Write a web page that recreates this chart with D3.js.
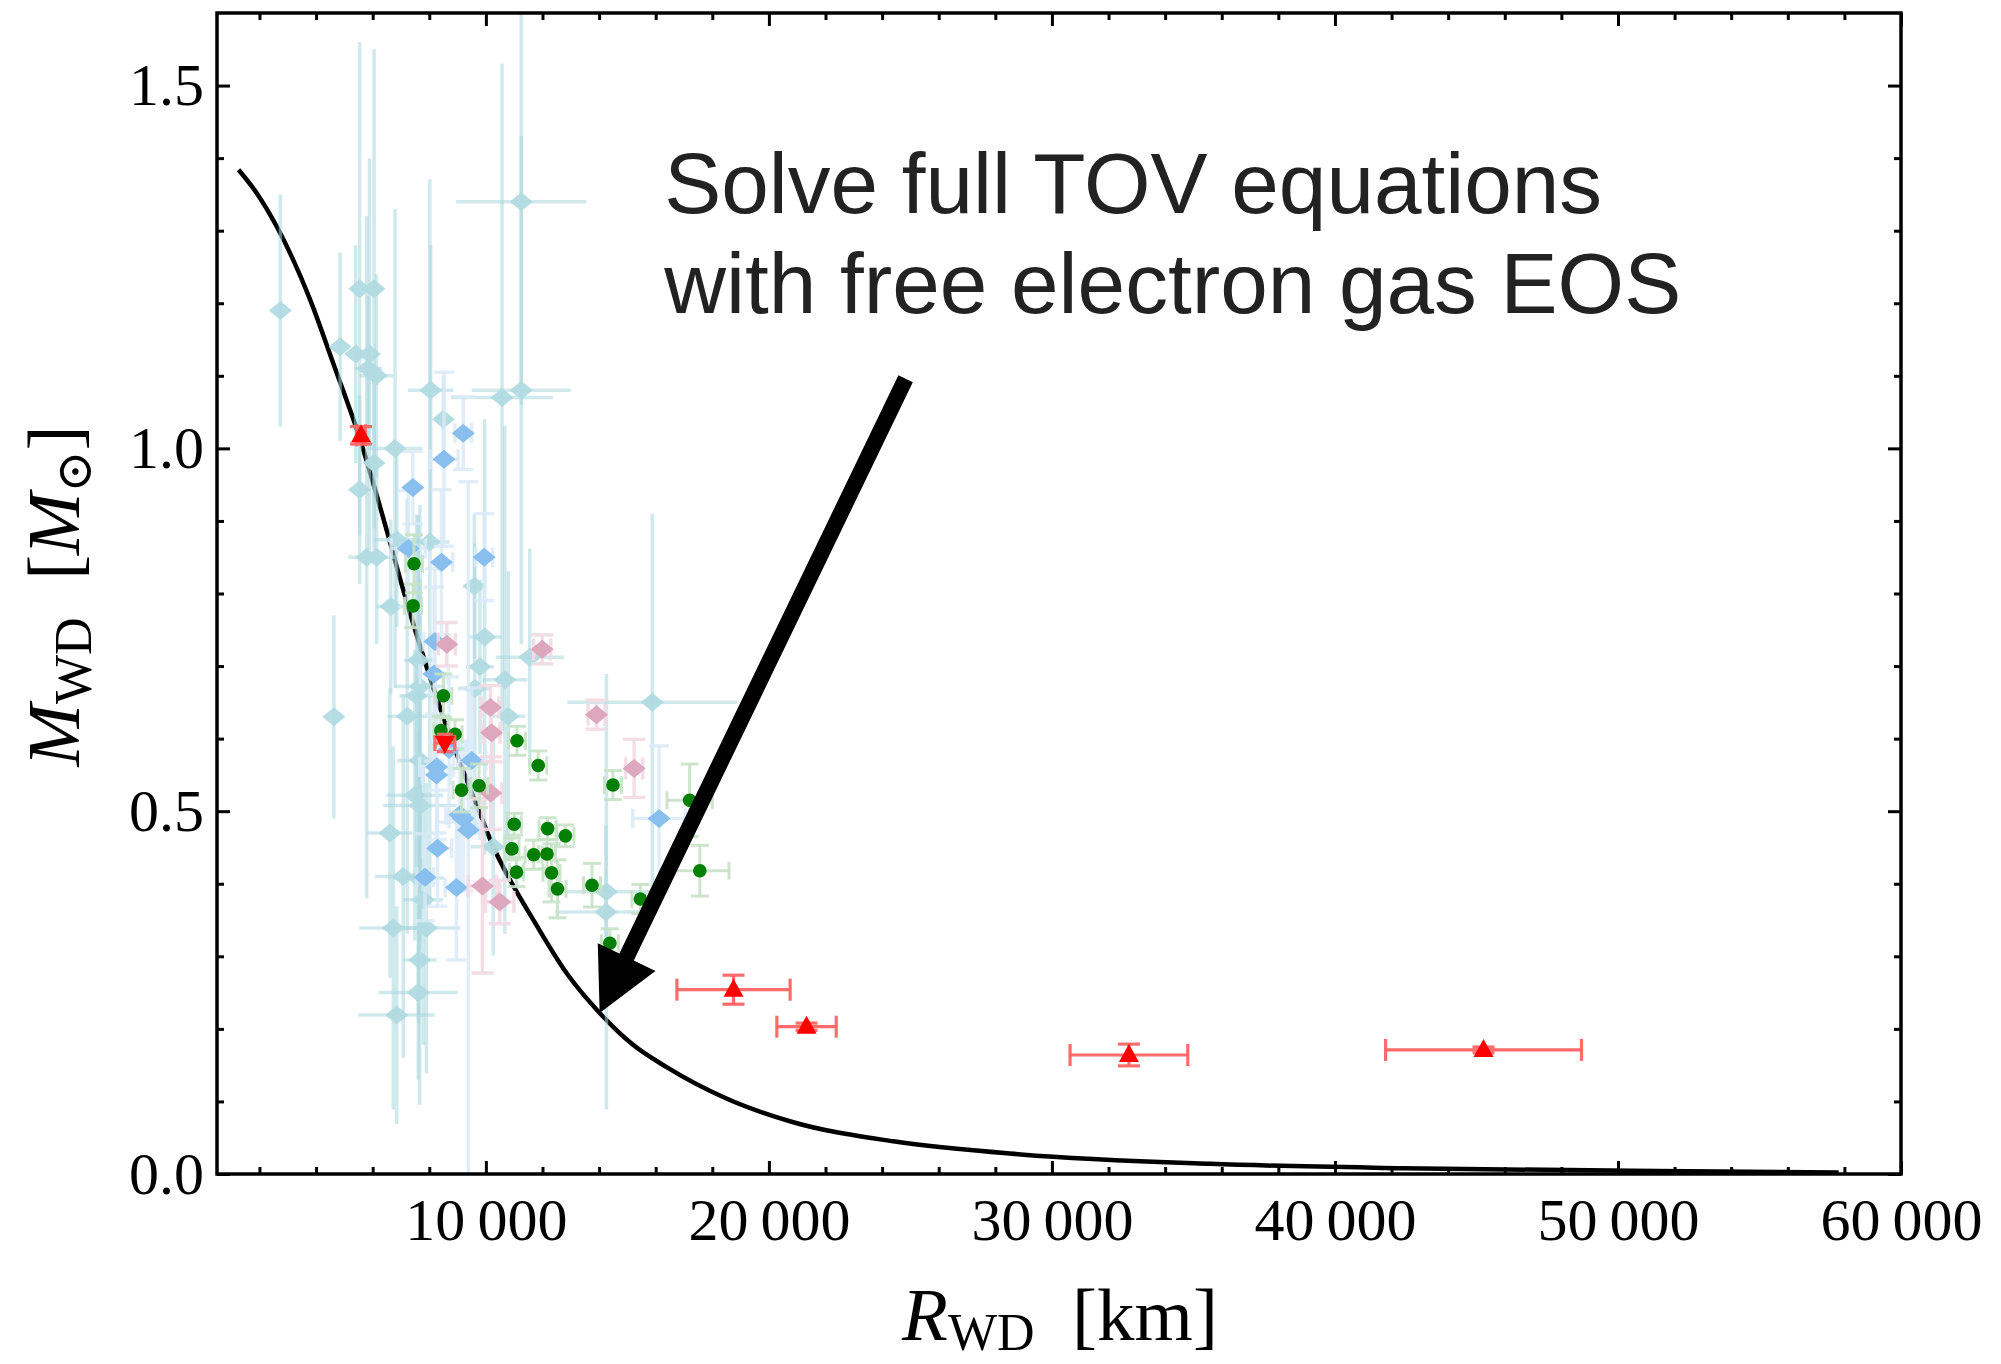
<!DOCTYPE html>
<html>
<head>
<meta charset="utf-8">
<script src="https://cdn.jsdelivr.net/npm/d3@7"></script>
<style>
  body { margin: 0; background: #fff; }
  svg { display: block; background: #fff; }
  .axis text { font-family: "Liberation Serif", "Times New Roman", serif; font-size: 60px; fill: #000; }
  .axis line { stroke: #000; stroke-width: 3; }
  .axis path { display: none; }
  .axis-label { font-family: "Liberation Serif", "Times New Roman", serif; font-size: 75px; fill: #000; }
  .annot { font-family: "Liberation Sans", Arial, sans-serif; font-size: 85.5px; fill: #222; }
</style>
</head>
<body>
<svg width="2001" height="1364"></svg>
<script>
// [R (km), M (Msun), dR, dM]
const lightBlue = [
  [2740, 1.19, 0, 0.16], [5540, 1.22, 300, 0.34], [6050, 1.22, 300, 0.33],
  [4850, 1.14, 0, 0.13], [5400, 1.13, 0, 0.15], [5890, 1.13, 0, 0.27],
  [5840, 1.11, 500, 0.1], [6130, 1.10, 600, 0.14], [8050, 1.08, 800, 0.2],
  [10570, 1.07, 1800, 0.46], [11250, 1.08, 1750, 0.35], [11250, 1.34, 2300, 0.28],
  [6790, 1.00, 970, 0.33], [8500, 1.04, 300, 0.06], [6050, 0.98, 0, 0.12],
  [5540, 0.943, 0, 0.13], [6850, 0.874, 800, 0.12], [8020, 0.871, 700, 0.5],
  [5790, 0.85, 650, 0.47], [6140, 0.85, 650, 0.12], [9590, 0.81, 400, 0.1],
  [6640, 0.782, 500, 0.12], [9960, 0.74, 600, 0.3], [11550, 0.712, 1200, 0.15],
  [7610, 0.708, 500, 0.2], [9790, 0.699, 500, 0.12], [10670, 0.681, 800, 0.35],
  [7670, 0.672, 900, 0.25], [7550, 0.659, 600, 0.25], [9610, 0.669, 600, 0.2],
  [7220, 0.631, 700, 0.3], [4630, 0.63, 0, 0.14], [10790, 0.631, 600, 0.2],
  [15880, 0.65, 3000, 0.26], [7670, 0.57, 800, 0.25], [7490, 0.522, 1000, 0.2],
  [7670, 0.508, 1300, 0.2], [10260, 0.451, 800, 0.15], [6610, 0.47, 800, 0.2],
  [7080, 0.41, 1000, 0.25], [7620, 0.408, 900, 0.2], [7790, 0.378, 700, 0.2],
  [14260, 0.389, 1500, 0.3], [14240, 0.361, 1800, 0.12], [6730, 0.339, 1200, 0.25],
  [7900, 0.339, 1200, 0.2], [7660, 0.295, 600, 0.2], [7610, 0.25, 1400, 0.12],
  [6850, 0.219, 1350, 0.15]
];
const skyBlue = [
  [9200, 1.021, 300, 0.05], [8520, 0.985, 500, 0.12], [7420, 0.946, 0, 0.05],
  [7260, 0.862, 600, 0.08], [8430, 0.843, 400, 0.1], [9940, 0.85, 300, 0.06],
  [8200, 0.734, 400, 0.1], [8170, 0.689, 500, 0.12], [8700, 0.585, 600, 0.1],
  [9500, 0.57, 500, 0.1], [8260, 0.561, 600, 0.1], [8260, 0.55, 500, 0.08],
  [9200, 0.49, 500, 0.1], [9080, 0.495, 500, 0.1], [9380, 0.474, 400, 0.48],
  [16120, 0.49, 930, 0.1], [8290, 0.449, 500, 0.08], [7850, 0.409, 300, 0.06],
  [8960, 0.395, 400, 0.1]
];
const pink = [
  [8620, 0.73, 300, 0.03], [11990, 0.723, 300, 0.02], [10160, 0.643, 300, 0.03],
  [13910, 0.633, 300, 0.02], [10200, 0.608, 300, 0.04], [15240, 0.559, 300, 0.04],
  [10170, 0.525, 400, 0.05], [9880, 0.397, 500, 0.12], [10490, 0.375, 500, 0.03]
];
const green = [
  [7460, 0.841, 300, 0.04], [7430, 0.783, 300, 0.03], [8500, 0.659, 300, 0.03],
  [8410, 0.611, 250, 0.02], [8910, 0.606, 250, 0.02], [11100, 0.597, 300, 0.02],
  [11850, 0.563, 300, 0.02], [9140, 0.529, 300, 0.03], [9760, 0.535, 300, 0.03],
  [14490, 0.536, 300, 0.02], [17200, 0.515, 800, 0.05], [11000, 0.482, 250, 0.015],
  [12180, 0.476, 300, 0.015], [12810, 0.466, 300, 0.015], [10920, 0.448, 250, 0.015],
  [11690, 0.44, 300, 0.02], [12160, 0.441, 300, 0.02], [11080, 0.416, 250, 0.02],
  [12320, 0.415, 300, 0.04], [12530, 0.393, 300, 0.04], [13750, 0.398, 300, 0.03],
  [17560, 0.418, 1030, 0.035], [15460, 0.379, 300, 0.02], [14380, 0.318, 300, 0.02]
];
const redUp = [
  [5590, 1.018, 150, 0.012], [18750, 0.254, 2000, 0.02], [21330, 0.203, 1050, 0.005],
  [32720, 0.164, 2080, 0.015], [45250, 0.171, 3460, 0.004]
];
const redDown = [[8550, 0.594, 350, 0.012]];

const curveR = [1260, 1900, 2620, 3800, 4600, 5550, 6490, 7080, 7600, 8700, 9790, 10250, 11000,
  11650, 12850, 14020, 15200, 16400, 18500, 20800, 24400, 28900, 35600, 42400, 51400, 57800];
const curveM = [1.384, 1.352, 1.305, 1.204, 1.118, 1.013, 0.888, 0.805, 0.737, 0.607, 0.497, 0.452, 0.395,
  0.352, 0.277, 0.222, 0.178, 0.147, 0.104, 0.072, 0.045, 0.027, 0.014, 0.008, 0.004, 0.002];

const xMajor = [10000, 20000, 30000, 40000, 50000, 60000];
const yMajor = [0, 0.5, 1.0, 1.5];
const annotLines = ["Solve full TOV equations", "with free electron gas EOS"];
const annotR = 16300, annotM = [1.324, 1.187];
const arrowTail = [24830, 1.096], arrowTip = [14020, 0.222];

const svg = d3.select("svg");
const plotL = 217, plotR = 1901, plotT = 13, plotB = 1174;

const x = d3.scaleLinear().domain([500, 60000]).range([plotL, plotR]);
const y = d3.scaleLinear().domain([0, 1.6]).range([plotB, plotT]);

const xMinor = d3.range(2000, 60000, 2000).filter(v => v % 10000 !== 0);
const yMinor = d3.range(0.1, 1.6, 0.1).filter(v => Math.abs(v * 2 - Math.round(v * 2)) > 1e-6);
const fmtX = d => d3.format(",")(d).replace(/,/g, "\u2009");

svg.append("defs").append("clipPath").attr("id", "plotclip")
  .append("rect").attr("x", plotL).attr("y", plotT)
  .attr("width", plotR - plotL).attr("height", plotB - plotT);

const plot = svg.append("g").attr("clip-path", "url(#plotclip)");

// model curve
plot.append("path")
  .datum(curveR.map((r, i) => [r, curveM[i]]))
  .attr("fill", "none")
  .attr("stroke", "#000")
  .attr("stroke-width", 4.5)
  .attr("stroke-linejoin", "round")
  .attr("d", d3.line().x(d => x(d[0])).y(d => y(d[1])).curve(d3.curveMonotoneX));

function drawBars(data, o) {
  const g = plot.append("g")
    .attr("stroke", o.color)
    .attr("stroke-width", o.width)
    .attr("stroke-opacity", o.opacity);
  data.forEach(d => {
    const [r, m, dr, dm] = d;
    if (dr > 0) {
      g.append("line").attr("x1", x(r - dr)).attr("x2", x(r + dr)).attr("y1", y(m)).attr("y2", y(m));
      if (o.cap) {
        [r - dr, r + dr].forEach(v => g.append("line")
          .attr("x1", x(v)).attr("x2", x(v)).attr("y1", y(m) - o.cap).attr("y2", y(m) + o.cap));
      }
    }
    if (dm > 0) {
      g.append("line").attr("x1", x(r)).attr("x2", x(r)).attr("y1", y(m - dm)).attr("y2", y(m + dm));
      if (o.cap) {
        [m - dm, m + dm].forEach(v => g.append("line")
          .attr("x1", x(r) - o.cap).attr("x2", x(r) + o.cap).attr("y1", y(v)).attr("y2", y(v)));
      }
    }
  });
}

const diamond = "M0,-9.5L11.5,0L0,9.5L-11.5,0Z";
const triUp = "M0,-11L10,7L-10,7Z";
const triDown = "M0,11L10,-7L-10,-7Z";

function drawMarks(data, shape, fill, opacity) {
  plot.append("g").selectAll("path")
    .data(data)
    .enter()
    .append("path")
    .attr("d", shape)
    .attr("transform", d => "translate(" + x(d[0]) + "," + y(d[1]) + ")")
    .attr("fill", fill)
    .attr("fill-opacity", opacity);
}

drawBars(lightBlue, { color: "#A9D7DF", width: 3.5, opacity: 0.55, cap: 0 });
drawMarks(lightBlue, diamond, "#B1DBE2", 0.95);

drawBars(skyBlue, { color: "#D9EAF8", width: 3.5, opacity: 0.8, cap: 10 });
drawMarks(skyBlue, diamond, "#88BFEE", 1);

drawBars(pink, { color: "#F2DAE3", width: 3.5, opacity: 0.9, cap: 11 });
drawMarks(pink, diamond, "#DDA7BD", 1);

drawBars(green, { color: "#C6E2C6", width: 3, opacity: 0.9, cap: 9 });
plot.append("g").selectAll("circle")
  .data(green)
  .enter()
  .append("circle")
  .attr("cx", d => x(d[0]))
  .attr("cy", d => y(d[1]))
  .attr("r", 6.8)
  .attr("fill", "#007F00");

drawBars(redUp, { color: "#FF6464", width: 3.2, opacity: 0.95, cap: 11 });
drawBars(redDown, { color: "#FF6464", width: 3.2, opacity: 0.95, cap: 8 });
drawMarks(redUp, triUp, "#FF0000", 1);
drawMarks(redDown, triDown, "#FF0000", 1);

// axes: ticks inward on all four sides
const axes = svg.append("g");
axes.append("g").attr("class", "axis").attr("transform", "translate(0," + plotB + ")")
  .call(d3.axisBottom(x).tickValues(xMajor).tickSizeInner(-13).tickSizeOuter(0).tickPadding(23).tickFormat(fmtX));
axes.append("g").attr("class", "axis").attr("transform", "translate(0," + plotB + ")")
  .call(d3.axisBottom(x).tickValues(xMinor).tickSizeInner(-7).tickSizeOuter(0).tickFormat(""));
axes.append("g").attr("class", "axis").attr("transform", "translate(0," + plotT + ")")
  .call(d3.axisTop(x).tickValues(xMajor).tickSizeInner(-13).tickSizeOuter(0).tickFormat(""));
axes.append("g").attr("class", "axis").attr("transform", "translate(0," + plotT + ")")
  .call(d3.axisTop(x).tickValues(xMinor).tickSizeInner(-7).tickSizeOuter(0).tickFormat(""));
axes.append("g").attr("class", "axis").attr("transform", "translate(" + plotL + ",0)")
  .call(d3.axisLeft(y).tickValues(yMajor).tickSizeInner(-13).tickSizeOuter(0).tickPadding(13).tickFormat(d3.format(".1f")));
axes.append("g").attr("class", "axis").attr("transform", "translate(" + plotL + ",0)")
  .call(d3.axisLeft(y).tickValues(yMinor).tickSizeInner(-7).tickSizeOuter(0).tickFormat(""));
axes.append("g").attr("class", "axis").attr("transform", "translate(" + plotR + ",0)")
  .call(d3.axisRight(y).tickValues(yMajor).tickSizeInner(-13).tickSizeOuter(0).tickFormat(""));
axes.append("g").attr("class", "axis").attr("transform", "translate(" + plotR + ",0)")
  .call(d3.axisRight(y).tickValues(yMinor).tickSizeInner(-7).tickSizeOuter(0).tickFormat(""));

svg.append("rect")
  .attr("x", plotL).attr("y", plotT)
  .attr("width", plotR - plotL).attr("height", plotB - plotT)
  .attr("fill", "none").attr("stroke", "#000").attr("stroke-width", 3.5);

// arrow
const tx = x(arrowTail[0]), ty = y(arrowTail[1]);
const hx = x(arrowTip[0]), hy = y(arrowTip[1]);
const len = Math.hypot(hx - tx, hy - ty);
const ux = (hx - tx) / len, uy = (hy - ty) / len;
const px = -uy, py = ux;
const shaftW = 8, headL = 62, headW = 32;
const bx = hx - ux * headL, by = hy - uy * headL;
const arrowPts = [
  [tx + px * shaftW, ty + py * shaftW],
  [bx + px * shaftW, by + py * shaftW],
  [bx + px * headW, by + py * headW],
  [hx, hy],
  [bx - px * headW, by - py * headW],
  [bx - px * shaftW, by - py * shaftW],
  [tx - px * shaftW, ty - py * shaftW]
];
svg.append("path")
  .attr("d", "M" + arrowPts.map(p => p.join(",")).join("L") + "Z")
  .attr("fill", "#000");

// annotation
annotLines.forEach((t, i) => {
  svg.append("text")
    .attr("class", "annot")
    .attr("x", x(annotR))
    .attr("y", y(annotM[i]))
    .text(t);
});

// axis labels
const xLab = svg.append("text")
  .attr("class", "axis-label")
  .attr("x", 1060).attr("y", 1340)
  .attr("text-anchor", "middle");
xLab.append("tspan").attr("font-style", "italic").text("R");
xLab.append("tspan").attr("font-size", 52).attr("dy", 10).text("WD");
xLab.append("tspan").attr("dy", -10).text("\u2002[km]");

const yLab = svg.append("text")
  .attr("class", "axis-label")
  .attr("transform", "translate(79,596) rotate(-90)")
  .attr("text-anchor", "middle");
yLab.append("tspan").attr("font-style", "italic").text("M");
yLab.append("tspan").attr("font-size", 52).attr("dy", 12).text("WD");
yLab.append("tspan").attr("dy", -12).text("\u2002[");
yLab.append("tspan").attr("font-style", "italic").text("M");
yLab.append("tspan").attr("font-size", 50).attr("dy", 12)
  .attr("font-family", "DejaVu Serif, DejaVu Sans").text("\u2299");
yLab.append("tspan").attr("dy", -12).text("]");
</script>
</body>
</html>
